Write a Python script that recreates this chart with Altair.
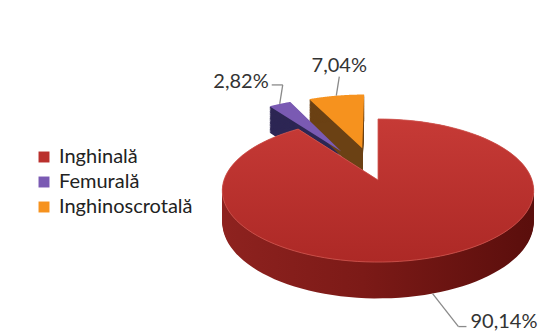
import altair as alt
import pandas as pd

categories = ["Inghinală", "Femurală", "Inghinoscrotală"]
values = [90.14, 2.82, 7.04]
top_colors = ["#BA302D", "#7A5AB3", "#F6921E"]
side_colors = ["#731714", "#2D2654", "#6B4114"]

df = pd.DataFrame({"category": categories, "value": values, "idx": list(range(len(values)))})

W, H = 542, 333
# pie geometry (perspective-tilted disc)
CX, CY, RX, RY, K, DEPTH, EXP, N = 378, 180, 154, 70, 0.147, 31, 0.5, 120
FONT = "Lato"
FS = 20

xs = alt.Scale(domain=[0, W], nice=False, zero=False)
ys = alt.Scale(domain=[0, H], nice=False, zero=False, reverse=True)

base = (
    alt.Chart(df)
    .transform_window(cum="sum(value)", sort=[alt.SortField("idx")], frame=[None, 0])
    .transform_joinaggregate(total="sum(value)", vmax="max(value)")
    .transform_calculate(
        a0="2*PI*(datum.cum-datum.value)/datum.total",
        a1="2*PI*datum.cum/datum.total",
        big="datum.value == datum.vmax",
    )
    .transform_calculate(
        am="(datum.a0+datum.a1)/2",
        e=f"datum.big ? 0 : {EXP}",
    )
    .transform_calculate(
        cu="datum.e*sin(datum.am)",
        cv="datum.e*cos(datum.am)",
    )
)

poly = (
    base.transform_calculate(pts=f"sequence(0, {N + 3})")
    .transform_flatten(["pts"])
    .transform_calculate(
        t=f"datum.a0 + (datum.pts-1)/{N}*(datum.a1-datum.a0)",
        inner=f"datum.pts == 0 || datum.pts == {N + 2}",
    )
    .transform_calculate(
        u="datum.cu + (datum.inner ? 0 : sin(datum.t))",
        v="datum.cv + (datum.inner ? 0 : cos(datum.t))",
    )
    .transform_calculate(den=f"1 + {K}*datum.v")
    .transform_calculate(
        px=f"{CX} + {RX}*datum.u/datum.den",
        py=f"{CY} - {RY}*datum.v/datum.den",
    )
)

sides = (
    poly.transform_calculate(off=f"sequence(1, {DEPTH + 1})")
    .transform_flatten(["off"])
    .transform_calculate(py2="datum.py + datum.off/datum.den")
)

side_small = sides.transform_filter("!datum.big").mark_line(filled=True, strokeWidth=0).encode(
    x=alt.X("px:Q", scale=xs, axis=None),
    y=alt.Y("py2:Q", scale=ys, axis=None),
    color=alt.Color("category:N", scale=alt.Scale(domain=categories, range=side_colors), legend=None),
    detail=["category:N", "off:Q"],
    order=alt.Order("pts:Q"),
)

side_big = sides.transform_filter("datum.big").mark_line(
    filled=True,
    strokeWidth=0,
    color=alt.Gradient(
        gradient="linear", x1=0, x2=1, y1=0, y2=0,
        stops=[
            alt.GradientStop(offset=0, color="#8E221F"),
            alt.GradientStop(offset=0.45, color="#7C1A17"),
            alt.GradientStop(offset=1, color="#5A0E0C"),
        ],
    ),
).encode(
    x=alt.X("px:Q", scale=xs, axis=None),
    y=alt.Y("py2:Q", scale=ys, axis=None),
    detail=["category:N", "off:Q"],
    order=alt.Order("pts:Q"),
)

top = poly.mark_line(filled=True, strokeWidth=0).encode(
    x=alt.X("px:Q", scale=xs, axis=None),
    y=alt.Y("py:Q", scale=ys, axis=None),
    color=alt.Color(
        "category:N",
        scale=alt.Scale(domain=categories, range=top_colors),
        sort=categories,
        legend=alt.Legend(
            title=None,
            orient="none",
            legendX=34,
            legendY=147,
            symbolType="square",
            symbolSize=120,
            symbolStrokeWidth=0,
            labelFont=FONT,
            labelFontSize=FS,
            labelColor="#222222",
            rowPadding=5,
            labelOffset=5,
        ),
    ),
    detail="category:N",
    order=alt.Order("pts:Q"),
)

top_big = poly.transform_filter("datum.big").mark_line(
    filled=True,
    stroke="#CF5852",
    strokeWidth=0.8,
    color=alt.Gradient(
        gradient="linear", x1=0, x2=0, y1=0, y2=1,
        stops=[
            alt.GradientStop(offset=0, color="#C63A36"),
            alt.GradientStop(offset=1, color="#AD2926"),
        ],
    ),
).encode(
    x=alt.X("px:Q", scale=xs, axis=None),
    y=alt.Y("py:Q", scale=ys, axis=None),
    detail="category:N",
    order=alt.Order("pts:Q"),
)

lab = (
    base.transform_calculate(
        s="sin(datum.am)",
        c="cos(datum.am)",
    )
    .transform_calculate(
        u="datum.cu + datum.s",
        v="datum.cv + datum.c",
    )
    .transform_calculate(den=f"1 + {K}*datum.v")
    .transform_calculate(
        ex0=f"{CX} + {RX}*datum.u/datum.den",
        ey0=f"{CY} - {RY}*datum.v/datum.den + (datum.c < 0 ? {DEPTH}/datum.den : 0)",
    )
    .transform_calculate(
        bx="datum.ex0 + 3 + 75*max(datum.s, 0)",
        by="datum.ey0 + (datum.c > 0 ? -19 : 33)",
    )
    .transform_calculate(
        hx="datum.bx + (datum.s > 0.1 ? 8 : (datum.s < -0.4 ? -11 : 0))",
        txt="replace(format(datum.value, '.2f'), '.', ',') + '%'",
    )
)

leader1 = lab.mark_rule(color="#8A8A8A", strokeWidth=1.3).encode(
    x=alt.X("ex0:Q", scale=xs, axis=None), y=alt.Y("ey0:Q", scale=ys, axis=None),
    x2="bx:Q", y2="by:Q",
)
leader2 = lab.mark_rule(color="#8A8A8A", strokeWidth=1.3).encode(
    x=alt.X("bx:Q", scale=xs, axis=None), y=alt.Y("by:Q", scale=ys, axis=None),
    x2="hx:Q", y2="by:Q",
)


def text_layer(cond, align, baseline, dx, dy):
    return lab.transform_filter(cond).mark_text(
        align=align, baseline=baseline, dx=dx, dy=dy,
        font=FONT, fontSize=FS, color="#333333",
    ).encode(
        x=alt.X("hx:Q", scale=xs, axis=None),
        y=alt.Y("by:Q", scale=ys, axis=None),
        text="txt:N",
    )


t_right = text_layer("datum.s > 0.1", "left", "alphabetic", 4, 1)
t_left = text_layer("datum.s < -0.4", "right", "middle", -3, -3)
t_mid = text_layer("datum.s >= -0.4 && datum.s <= 0.1", "center", "bottom", 0, -1)

chart = (
    alt.layer(side_big, side_small, top, top_big, leader1, leader2, t_right, t_left, t_mid)
    .resolve_scale(color="independent")
    .properties(width=W, height=H, padding=0, autosize=alt.AutoSizeParams(type="none"), background="white")
    .configure_view(stroke=None)
)

chart.save("out.html", embed_options={"renderer": "svg", "actions": False})
